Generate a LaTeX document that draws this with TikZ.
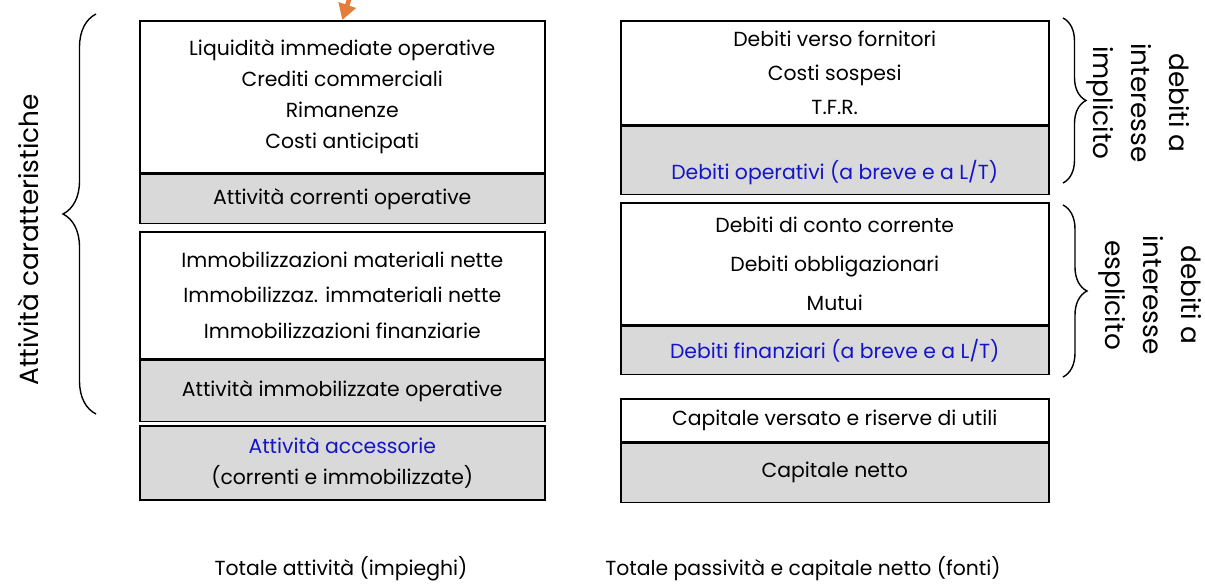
\documentclass[tikz,border=0pt]{standalone}
\usepackage{fontspec}
\setmainfont{Poppins}
\usetikzlibrary{positioning, arrows.meta, decorations.pathreplacing}

\definecolor{boxgray}{RGB}{217,217,217}
\definecolor{itemblue}{RGB}{20,20,200}
\definecolor{arrorange}{RGB}{228,124,60}

\begin{document}
\begin{tikzpicture}[
    x=0.02cm, y=-0.02cm,
    every node/.style={font=\fontsize{11.6}{14}\selectfont},
    part/.style={draw, line width=0.9pt, align=center, inner sep=0pt},
    wpart/.style={part, fill=white},
    gpart/.style={part, fill=boxgray},
    lcol/.style={minimum width=8.1cm},
    rcol/.style={minimum width=8.56cm},
    brace/.style={decorate, line width=0.8pt},
    side/.style={align=center, font=\fontsize{15}{21.5}\selectfont}
]
\useasboundingbox (0,0) rectangle (1205,583);

% --- Impieghi ---
\node[wpart, lcol, minimum height=3.04cm, anchor=north west] (liq) at (139,20)
    {Liquidità immediate operative\\[3.6pt] Crediti commerciali\\[3.6pt] Rimanenze\\[3.6pt] Costi anticipati};
\node[gpart, lcol, minimum height=0.98cm, below=0pt of liq] (aco) {Attività correnti operative};

\node[wpart, lcol, minimum height=2.54cm, anchor=north west] (imm) at (139,231)
    {Immobilizzazioni materiali nette\\[6.4pt] Immobilizzaz. immateriali nette\\[6.4pt] Immobilizzazioni finanziarie};
\node[gpart, lcol, minimum height=1.22cm, below=0pt of imm] (aio) {Attività immobilizzate operative};

\node[gpart, lcol, minimum height=1.48cm, anchor=north west] (acc) at (139,425)
    {\textcolor{itemblue}{Attività accessorie}\\[3.6pt] (correnti e immobilizzate)};

% --- Fonti ---
\node[wpart, rcol, minimum height=2.08cm, anchor=north west] (forn) at (620,20)
    {Debiti verso fornitori\\[5.5pt] Costi sospesi\\[5.5pt] T.F.R.};
\node[gpart, rcol, minimum height=1.36cm, below=0pt of forn] (dop) {};
\node[text=itemblue] (dopt) at ([yshift=-0.24cm]dop.center) {Debiti operativi (a breve e a L/T)};

\node[wpart, rcol, minimum height=2.44cm, anchor=north west] (ccor) at (620,202)
    {Debiti di conto corrente\\[8.4pt] Debiti obbligazionari\\[8.4pt] Mutui};
\node[gpart, rcol, minimum height=0.96cm, below=0pt of ccor, text=itemblue] (dfin) {Debiti finanziari (a breve e a L/T)};

\node[wpart, rcol, minimum height=0.86cm, anchor=north west] (cap) at (620,398)
    {Capitale versato e riserve di utili};
\node[gpart, rcol, minimum height=1.18cm, below=0pt of cap] (cn) {Capitale netto};

% braces
\draw[brace, decoration={brace, amplitude=0.66cm}] (96,414) -- (96,14);
\draw[brace, decoration={brace, amplitude=0.46cm}] (1063,18) -- (1063,183);
\draw[brace, decoration={brace, amplitude=0.48cm}] (1063,205) -- (1063,377);

\node[side, rotate=90] (carat) at (28,240) {Attività caratteristiche};
\node[side, rotate=-90] (impl) at (1138,103) {debiti a\\ interesse\\ implicito};
\node[side, rotate=-90] (espl) at (1150,295) {debiti a\\ interesse\\ esplicito};

% totals
\node (totatt) at (341,569) {Totale attività (impieghi)};
\node (totpas) at (803,569) {Totale passività e capitale netto (fonti)};

% arrow from above
\coordinate (src) at (353,-12);
\draw[arrorange, line width=2.6pt, -{Triangle[length=9pt, width=10pt]}] (src) -- (liq.north);

\end{tikzpicture}
\end{document}
